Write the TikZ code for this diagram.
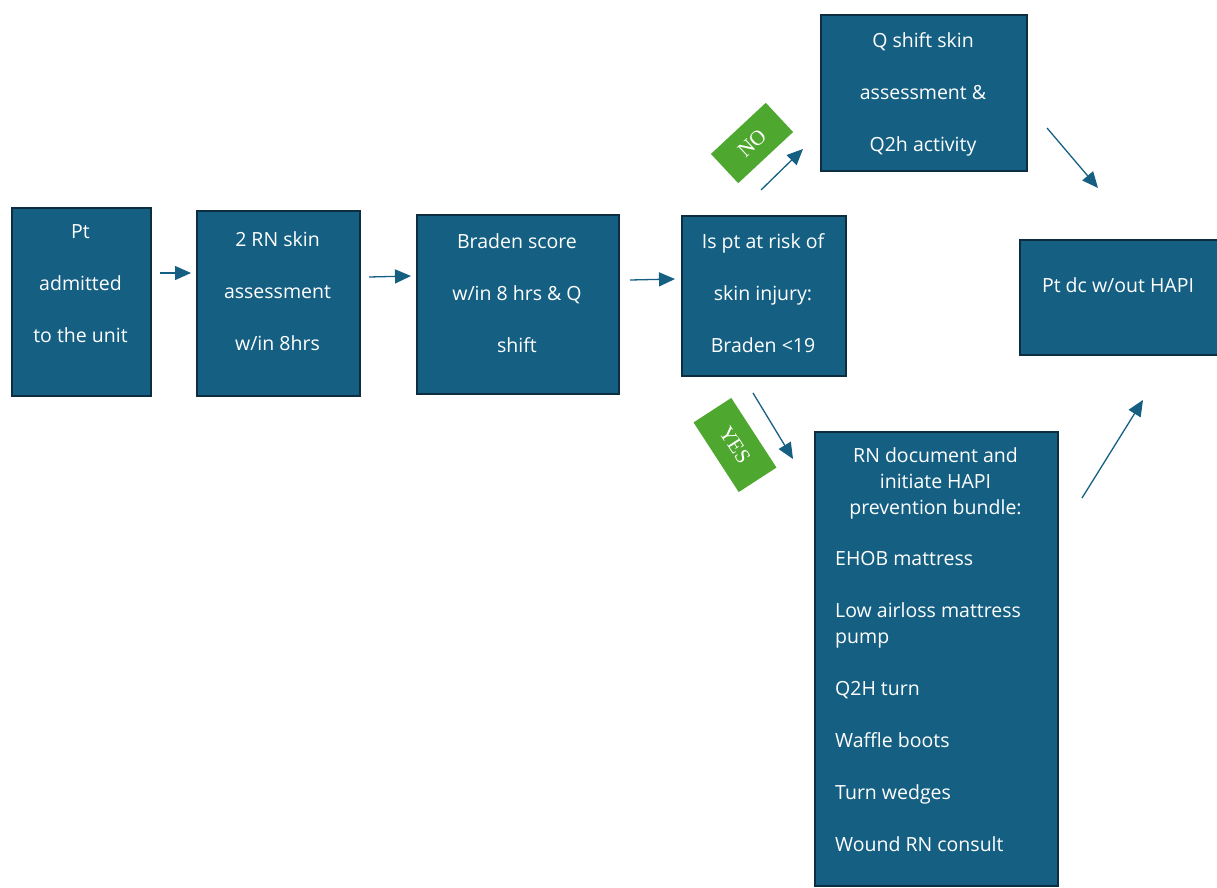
\documentclass[tikz,border=0pt]{standalone}
\usepackage{fontspec}
\setmainfont{Open Sans}
\newfontfamily\labserif{Liberation Serif}
\usetikzlibrary{arrows.meta}
\definecolor{boxfill}{HTML}{156082}
\definecolor{boxline}{HTML}{0C2E40}
\definecolor{arrcol}{HTML}{156082}
\definecolor{grn}{HTML}{4EA72E}
\begin{document}
\begin{tikzpicture}[x=1pt,y=-1pt,
  box/.style={draw=boxline, line width=2pt, fill=boxfill, inner sep=0pt, anchor=north west},
  txt/.style={text=white, align=center, inner sep=0pt, anchor=north, font=\fontsize{19.5}{52}\selectfont},
  txtb/.style={text=white, inner sep=0pt, font=\fontsize{19.5}{26}\selectfont},
  conn/.style={draw=arrcol, line width=1.3pt, -{Triangle[length=16pt,width=14pt]}},
  lab/.style={fill=grn, text=white, inner sep=0pt, font=\labserif\fontsize{21}{22}\selectfont}]
\useasboundingbox (0,0) rectangle (1217,888);
% boxes
\node[box, minimum width=139, minimum height=188] (b1) at (11,207) {};
\node[box, minimum width=163, minimum height=185] (b2) at (196,210) {};
\node[box, minimum width=202, minimum height=179] (b3) at (416,214) {};
\node[box, minimum width=164, minimum height=160] (b4) at (681,215) {};
\node[box, minimum width=206, minimum height=156] (b5) at (820,14) {};
\node[box, minimum width=199, minimum height=115] (b6) at (1019,239) {};
\node[box, minimum width=243, minimum height=454] (b7) at (814,431) {};
% texts
\node[txt] (t1) at (80.5,224) {Pt\\admitted\\to the unit};
\node[txt] (t2) at (277.5,231) {2 RN skin\\assessment\\w/in 8hrs};
\node[txt] (t3) at (517,233) {Braden score\\w/in 8 hrs \& Q\\shift};
\node[txt] (t4) at (763,233) {Is pt at risk of\\skin injury:\\Braden <19};
\node[txt] (t5) at (923,32) {Q shift skin\\assessment \&\\Q2h activity};
\node[txt] (t6) at (1118,277) {Pt dc w/out HAPI};
\node[txtb, align=center, anchor=north] (t7) at (935.5,447) {RN document and\\initiate HAPI\\prevention bundle:};
\node[txtb, align=left, anchor=north west] (t8) at (835,551) {EHOB mattress\\[26pt]Low airloss mattress\\pump\\[26pt]Q2H turn\\[26pt]Waffle boots\\[26pt]Turn wedges\\[26pt]Wound RN consult};
% labels
\node[lab, rotate=43, minimum width=75, minimum height=40] (no) at (752,143) {NO};
\node[lab, rotate=-57, minimum width=83, minimum height=45] (yes) at (735,445) {YES};
% arrow end points
\coordinate (a1s) at (160,273); \coordinate (a1e) at (191,273);
\coordinate (a2s) at (369,277); \coordinate (a2e) at (411,276);
\coordinate (a3s) at (630,280); \coordinate (a3e) at (675,279);
\coordinate (a4s) at (761,190); \coordinate (a4e) at (803,149);
\coordinate (a5s) at (753,393); \coordinate (a5e) at (793,459);
\coordinate (a6s) at (1047,128); \coordinate (a6e) at (1098,188);
\coordinate (a7s) at (1082,498); \coordinate (a7e) at (1143,400);
\draw[conn] (a1s) -- (a1e);
\draw[conn] (a2s) -- (a2e);
\draw[conn] (a3s) -- (a3e);
\draw[conn] (a4s) -- (a4e);
\draw[conn] (a5s) -- (a5e);
\draw[conn] (a6s) -- (a6e);
\draw[conn] (a7s) -- (a7e);
\end{tikzpicture}
\end{document}
